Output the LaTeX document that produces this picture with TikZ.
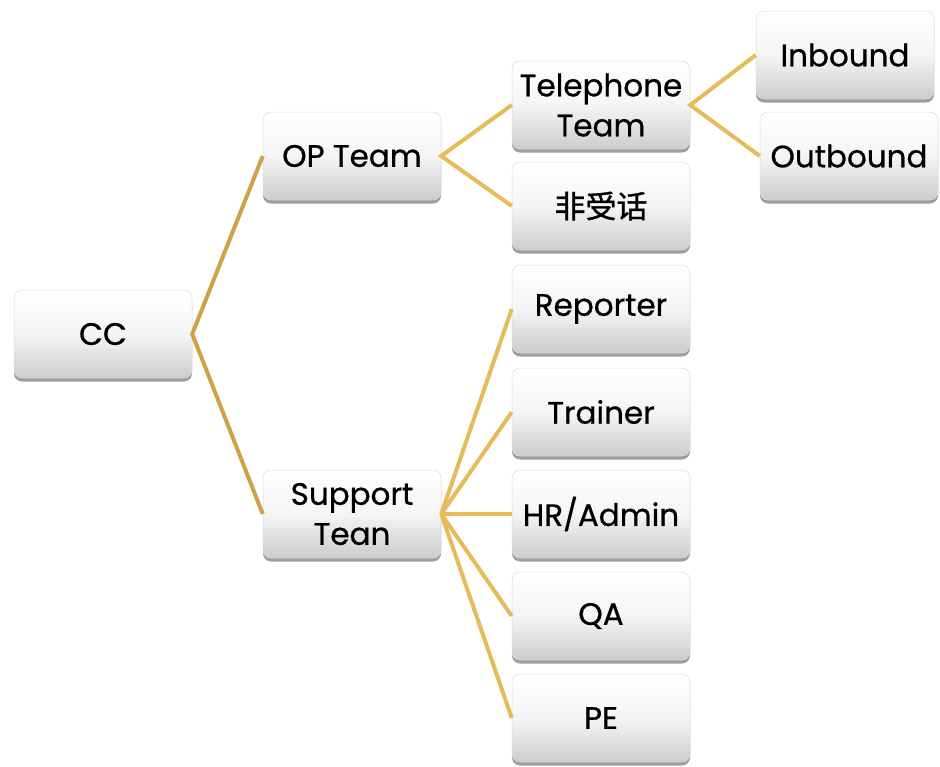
\documentclass[tikz,border=0pt]{standalone}
\usepackage{fontspec}
\setmainfont{Poppins}
\newfontfamily\boxfont{Poppins}[FakeBold=0.7]
\newfontfamily\cjk{Noto Sans CJK SC}[FakeBold=1.2]
\usetikzlibrary{shadows}
\definecolor{rootline}{HTML}{CFA24A}
\definecolor{branchline}{HTML}{E8BA5A}
\tikzset{
  orgbox/.style={rounded corners=8pt, minimum width=178pt, minimum height=88pt,
    top color=white, bottom color=black!20, middle color=white!96!black,
    draw=black!14, line width=0.5pt, align=center,
    font=\boxfont\fontsize{31}{40}\selectfont, inner sep=1pt,
    drop shadow={shadow xshift=0pt, shadow yshift=-3.5pt, fill=black, opacity=0.38}},
  rootlink/.style={draw=rootline, line width=4pt},
  link/.style={draw=branchline, line width=4pt},
}
\begin{document}
\begin{tikzpicture}[x=1pt, y=-1pt]
  \useasboundingbox (0,0) rectangle (940,766);
  % boxes
  \node[orgbox] (cc)  at (103,334) {CC};
  \node[orgbox] (op)  at (352,156) {OP Team};
  \node[orgbox] (sup) at (352,514) {Support\\Tean};
  \node[orgbox] (tel) at (601,105) {Telephone\\Team};
  \node[orgbox] (non) at (601,206) {\cjk 非受话};
  \node[orgbox] (inb) at (845,55)  {Inbound};
  \node[orgbox] (out) at (849,156) {Outbound};
  \node[orgbox] (rep) at (601,309) {Reporter};
  \node[orgbox] (tra) at (601,412) {Trainer};
  \node[orgbox] (hr)  at (601,514) {HR/Admin};
  \node[orgbox] (qa)  at (601,616) {QA};
  \node[orgbox] (pe)  at (601,718) {PE};
  % connectors
  \draw[rootlink] (op.west) -- (cc.east) -- (sup.west);
  \draw[link] (tel.west) -- (op.east) -- (non.west);
  \draw[link] (inb.west) -- (tel.east) -- (out.west);
  \foreach \t in {rep,tra,hr,qa,pe}
    \draw[link] (sup.east) -- (\t.west);
\end{tikzpicture}
\end{document}
